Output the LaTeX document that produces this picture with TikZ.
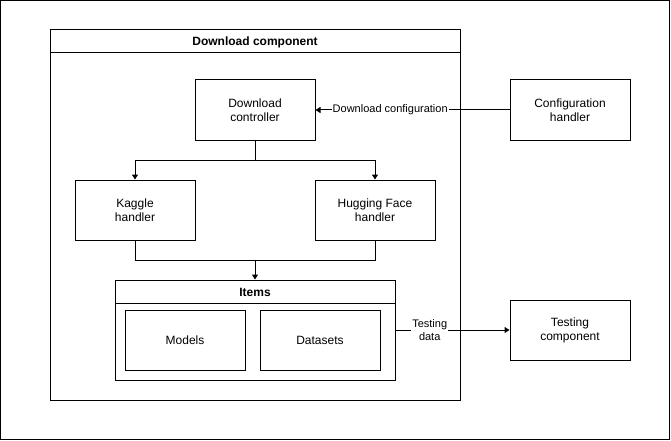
\documentclass[tikz,border=0pt]{standalone}
\usepackage{fontspec}
\setmainfont{Liberation Sans}
\usetikzlibrary{arrows.meta,positioning,calc}
\tikzset{
  box/.style={draw, line width=1pt, minimum width=120pt, minimum height=60pt, align=center, font=\fontsize{12}{14}\selectfont, inner sep=0pt},
  conn/.style={line width=1pt, -{Triangle[width=6pt,length=5pt]}},
  plain/.style={line width=1pt},
  elabel/.style={fill=white, font=\fontsize{11}{12.5}\selectfont, align=center, inner sep=1pt},
  cont/.style={draw, line width=1pt, inner sep=0pt},
  head/.style={font=\bfseries\fontsize{12}{14}\selectfont}
}
\begin{document}
\begin{tikzpicture}[x=1pt,y=-1pt]
\useasboundingbox (0,0) rectangle (671,441);
\draw[line width=1pt] (0.5,0.5) rectangle (669.5,439.5);
% Download component container
\node[cont, minimum width=410pt, minimum height=370pt] (dc) at (255,215) {};
\draw[plain] (50,53) -- (460,53);
\node[head] (dctitle) at (255,42) {Download component};
% boxes
\node[box] (ctrl) at (255,110) {Download\\controller};
\node[box] (cfg) at (570,110) {Configuration\\handler};
\node[box] (kag) at (135,210) {Kaggle\\handler};
\node[box] (hf) at (375,210) {Hugging Face\\handler};
% Items container
\node[cont, minimum width=280pt, minimum height=100pt] (items) at (255,330) {};
\draw[plain] (115,303) -- (395,303);
\node[head] (itemstitle) at (255,292) {Items};
\node[box] (models) at (185,340) {Models};
\node[box] (data) at (320,340) {Datasets};
\node[box] (test) at (570,330) {Testing\\component};
% connectors
\coordinate (split) at (255,160);
\draw[plain] (ctrl.south) -- (split);
\draw[conn] (split) -| (kag.north);
\draw[conn] (split) -| (hf.north);
\coordinate (merge) at (255,260);
\draw[plain] (kag.south) |- (merge);
\draw[plain] (hf.south) |- (merge);
\draw[conn] (merge) -- (items.north);
\draw[conn] (cfg.west) -- node[elabel, pos=0.615] {Download configuration} (ctrl.east);
\draw[conn] (items.east) -- node[elabel, pos=0.3] {Testing\\data} (test.west);
\end{tikzpicture}
\end{document}
